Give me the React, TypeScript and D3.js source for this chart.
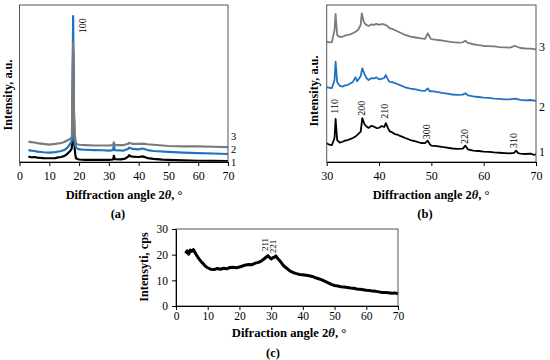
import { useEffect, useRef } from "react";
import * as d3 from "d3";

type Pt = [number, number];

// (a) full scans 3–70°, arbitrary units (curves stacked)
const aCurve1: Pt[] = [
  [3, 3.4], [4, 3.0], [5, 3.2], [6, 2.8], [8, 2.5], [10, 2.4], [12, 2.5], [13, 2.9], [14, 3.2],
  [15, 3.8], [16, 5.1], [17, 7.0], [17.5, 8.3], [17.8, 14], [18, 70], [18.2, 40], [18.4, 12],
  [18.7, 5], [19, 2.2], [20, 1.6], [22, 1.4], [25, 1.3], [28, 1.4], [30, 1.3], [31.4, 1.6],
  [31.7, 4.0], [32, 1.8], [34, 1.7], [35.5, 2.2], [36.5, 3.4], [36.8, 4.3], [37.5, 3.5],
  [38, 3.4], [40, 3.2], [41.3, 3.6], [43, 2.5], [45, 2.0], [48, 1.5], [50, 1.3], [55, 1.0],
  [60, 0.8], [65, 0.7], [70, 0.6],
];
const aCurve2: Pt[] = [
  [3, 7.6], [4, 7.2], [5, 7.0], [6, 6.6], [8, 6.2], [10, 6.0], [12, 6.3], [14, 7.0], [15, 7.6],
  [16, 9.0], [17, 11.5], [17.7, 14], [18, 93], [18.3, 30], [18.5, 12], [19, 9.0], [20, 8.0],
  [22, 7.8], [25, 7.6], [28, 7.5], [30, 7.3], [31.4, 7.6], [31.7, 10.5], [32, 7.6], [35, 7.3],
  [36.5, 8.4], [36.8, 9.2], [38, 8.3], [40, 8.0], [41.3, 8.6], [43, 7.6], [45, 7.0], [50, 6.4],
  [55, 6.0], [60, 5.7], [65, 5.4], [70, 5.1],
];
const aCurve3: Pt[] = [
  [3, 12.9], [4, 12.7], [5, 12.4], [6, 12.0], [8, 11.5], [10, 11.1], [12, 11.5], [14, 12.1],
  [15, 12.7], [16, 13.7], [17, 14.6], [17.6, 15.9], [18, 76], [18.3, 30], [18.5, 18], [19, 11.5],
  [20, 11.0], [22, 10.8], [25, 10.5], [28, 10.5], [30, 10.5], [31.4, 10.8], [31.7, 12.5],
  [32, 10.8], [35, 10.8], [36.5, 11.6], [36.8, 12.3], [38, 11.5], [40, 11.5], [41.3, 11.7],
  [43, 11.3], [45, 11.0], [50, 10.2], [55, 10.0], [60, 9.9], [65, 9.7], [70, 9.5],
];
const aTicks = [0, 10, 20, 30, 40, 50, 60, 70];
const aPeaks = [{ hkl: "100", x: 21.5, y: 82 }];
const aCurveLabelY = [-0.7, 7.3, 15.4];

// (b) zoom 30–70°
const bCurve1: Pt[] = [
  [30, 11.9], [30.5, 11.0], [31, 10.8], [31.5, 15.3], [31.7, 27.4], [32, 14.0], [32.5, 12.3],
  [33, 12.9], [33.5, 13.6], [34, 14.0], [34.5, 14.6], [35, 15.3], [35.5, 16.2], [36, 17.8],
  [36.5, 19.3], [36.8, 28.0], [37.2, 24.2], [37.6, 22.6], [38, 21.7], [38.5, 23.0], [39, 22.6],
  [39.5, 21.6], [40, 21.8], [40.5, 22.9], [41, 22.3], [41.3, 24.8], [41.7, 21.8], [42, 19.7],
  [42.5, 18.9], [43, 17.8], [43.5, 17.5], [44, 16.6], [44.5, 16.0], [45, 15.3], [46, 14.0],
  [47, 13.1], [48, 12.1], [48.8, 12.0], [49.3, 13.6], [49.7, 11.3], [50, 10.4], [51, 10.1],
  [52, 9.6], [53, 9.2], [54, 8.6], [55, 8.3], [56, 8.5], [56.5, 10.4], [57, 8.0], [58, 7.2],
  [59, 7.0], [60, 6.6], [61, 6.5], [62, 6.1], [63, 5.9], [64, 5.7], [65, 5.5], [65.8, 5.8],
  [66.2, 7.2], [66.6, 5.6], [67, 5.4], [68, 5.1], [69, 5.3], [69.5, 4.6], [70, 4.9],
];
const bCurve2: Pt[] = [
  [30, 47.6], [30.5, 47.3], [31, 47.1], [31.5, 52.2], [31.7, 63.9], [32, 51.0], [32.5, 48.5],
  [33, 48.0], [33.5, 48.8], [34, 49.0], [34.5, 50.0], [35, 51.0], [35.5, 54.0], [35.8, 51.5],
  [36, 52.2], [36.5, 54.8], [36.8, 59.7], [37.2, 56.1], [37.6, 53.5], [38, 52.2], [38.5, 53.4],
  [39, 53.2], [39.5, 53.9], [40, 52.7], [40.5, 53.0], [41, 53.5], [41.3, 55.4], [41.7, 52.6],
  [42, 51.1], [42.5, 50.9], [43, 50.3], [44, 49.0], [45, 47.6], [46, 46.8], [47, 46.2],
  [48, 45.5], [48.8, 45.3], [49.3, 46.9], [49.7, 45.0], [50, 45.2], [51, 44.6], [52, 44.0],
  [53, 43.6], [54, 43.0], [55, 42.7], [56, 42.9], [56.5, 43.8], [57, 42.4], [58, 41.8],
  [59, 41.4], [60, 41.0], [61, 40.8], [62, 40.4], [63, 40.2], [64, 39.9], [65, 39.9], [66, 40.4],
  [67, 39.6], [68, 39.2], [69, 39.5], [70, 39.0],
];
const bCurve3: Pt[] = [
  [30, 76.6], [30.5, 76.2], [31, 76.4], [31.5, 84.1], [31.7, 94.3], [32, 80.9], [32.5, 79.6],
  [33, 79.8], [33.5, 80.5], [34, 80.9], [34.5, 81.3], [35, 82.0], [35.5, 83.0], [36, 84.1],
  [36.5, 87.3], [36.7, 94.7], [37.1, 89.2], [37.5, 87.5], [38, 86.6], [38.5, 87.6], [39, 87.3],
  [39.5, 88.0], [40, 87.3], [40.5, 87.9], [41, 87.6], [41.5, 86.9], [42, 85.2], [42.5, 84.8],
  [43, 84.1], [44, 82.5], [45, 80.9], [46, 79.9], [47, 79.3], [48, 78.7], [48.8, 78.4],
  [49.3, 82.0], [49.8, 79.0], [50, 78.2], [51, 77.8], [52, 77.4], [53, 76.9], [54, 76.4],
  [55, 76.0], [56, 76.2], [56.5, 77.3], [57, 75.8], [58, 75.0], [59, 74.4], [60, 73.9],
  [61, 73.8], [62, 73.6], [63, 73.2], [64, 73.0], [65, 72.8], [66, 73.9], [67, 72.6],
  [68, 72.3], [69, 72.2], [70, 71.8],
];
const bTicks = [30, 40, 50, 60, 70];
const bPeaks = [
  { hkl: "110", x: 31.7, y: 30.8 },
  { hkl: "200", x: 36.8, y: 29.5 },
  { hkl: "210", x: 41.3, y: 27.5 },
  { hkl: "300", x: 49.3, y: 14.5 },
  { hkl: "220", x: 56.5, y: 11.5 },
  { hkl: "310", x: 66.0, y: 8.9 },
];
const bCurveLabelY = [5.7, 34.4, 72.6];

// (c) intensity, cps
const cCurve: Pt[] = [
  [3, 20.5], [3.5, 21.5], [4, 20.2], [4.5, 21.8], [5, 21.3], [5.5, 22.0], [6, 20.8], [6.5, 19.8],
  [7, 18.8], [7.5, 18.0], [8, 17.2], [8.5, 16.6], [9, 15.8], [9.5, 15.3], [10, 14.9], [11, 14.3],
  [12, 14.2], [13, 14.6], [14, 14.3], [15, 14.7], [16, 14.5], [17, 15.0], [18, 15.1], [19, 14.9],
  [20, 15.2], [21, 15.6], [22, 16.0], [23, 16.2], [24, 16.1], [25, 16.7], [26, 17.0], [27, 17.6],
  [28, 18.6], [29, 19.6], [29.5, 18.9], [30, 18.3], [30.5, 18.8], [31, 19.0], [31.5, 19.5],
  [32, 18.6], [33, 17.2], [34, 15.6], [35, 14.6], [36, 13.6], [37, 13.0], [38, 12.6], [39, 12.3],
  [40, 12.2], [41, 12.0], [42, 11.8], [43, 11.5], [44, 11.0], [45, 10.6], [46, 10.2], [47, 9.6],
  [48, 9.0], [49, 8.4], [50, 8.0], [51, 7.8], [52, 7.5], [53, 7.4], [54, 7.2], [55, 7.0],
  [56, 6.9], [57, 6.6], [58, 6.5], [59, 6.3], [60, 6.1], [61, 6.0], [62, 5.8], [63, 5.7],
  [64, 5.5], [65, 5.3], [66, 5.3], [67, 5.2], [68, 5.0], [69, 5.1], [70, 4.8],
];
const cXTicks = [0, 10, 20, 30, 40, 50, 60, 70];
const cYTicks = [0, 10, 20, 30];
const cPeaks = [
  { hkl: "211", x: 28.3, y: 21.4 },
  { hkl: "221", x: 31.0, y: 20.6 },
];

const curveColors = ["#000000", "#1f74c2", "#7a7a7a"];
const serif = "'Liberation Serif', 'Times New Roman', serif";

const App = () => {
  const ref = useRef<SVGSVGElement | null>(null);

  useEffect(() => {
    drawChart();
  }, []);

  const drawChart = () => {
    const svg = d3.select(ref.current);
    svg.selectAll("*").remove();

    const xTitle = (cx, cy, word, size) => {
      const t = svg
        .append("text")
        .attr("x", cx)
        .attr("y", cy)
        .attr("text-anchor", "middle")
        .attr("font-family", serif)
        .attr("font-weight", "bold")
        .attr("font-size", size);
      t.append("tspan").text(`${word} angle 2`);
      t.append("tspan").attr("font-style", "italic").text("θ");
      t.append("tspan").text(", °");
    };

    const yTitle = (cx, cy, text) => {
      svg
        .append("text")
        .attr("transform", `translate(${cx},${cy}) rotate(-90)`)
        .attr("text-anchor", "middle")
        .attr("dominant-baseline", "middle")
        .attr("font-family", serif)
        .attr("font-weight", "bold")
        .attr("font-size", 12.3)
        .text(text);
    };

    const plain = (x, y, text, size = 12) =>
      svg
        .append("text")
        .attr("x", x)
        .attr("y", y)
        .attr("font-family", serif)
        .attr("font-size", size)
        .attr("dominant-baseline", "middle")
        .text(text);

    const panel = (opts) => {
      const { x0, x1, y0, y1, xDomain, yDomain, ticks, curves, peaks, curveLabelY, width, tickFont, tickPad, peakFont, labelFont } = opts;
      const xScale = d3.scaleLinear().domain(xDomain).range([x0, x1]);
      const yScale = d3.scaleLinear().domain(yDomain).range([y1, y0]);

      const line = d3
        .line<Pt>()
        .x((d) => xScale(d[0]))
        .y((d) => yScale(d[1]));

      curves.forEach((c, i) => {
        svg
          .append("path")
          .datum(c)
          .attr("fill", "none")
          .attr("stroke", curveColors[i])
          .attr("stroke-width", width)
          .attr("stroke-linejoin", "round")
          .attr("d", line);
      });

      // plot box
      svg
        .append("rect")
        .attr("x", x0)
        .attr("y", y0)
        .attr("width", x1 - x0)
        .attr("height", y1 - y0)
        .attr("fill", "none")
        .attr("stroke", "#555")
        .attr("stroke-width", 1);

      svg
        .append("g")
        .attr("transform", `translate(0,${y1})`)
        .call(d3.axisBottom(xScale).tickValues(ticks).tickSize(4).tickSizeOuter(0).tickPadding(tickPad))
        .call((g) => g.select(".domain").attr("stroke", "#000"))
        .style("font-family", serif)
        .style("font-size", `${tickFont}px`)
        .style("color", "#000");

      peaks.forEach((p) => {
        svg
          .append("text")
          .attr("transform", `translate(${xScale(p.x)},${yScale(p.y)}) rotate(-90)`)
          .attr("dominant-baseline", "middle")
          .attr("font-family", serif)
          .attr("font-size", peakFont)
          .text(p.hkl);
      });

      curveLabelY.forEach((v, i) => plain(x1 + 3, yScale(v), String(i + 1), labelFont));
      return { xScale, yScale };
    };

    // (a)
    panel({
      x0: 19.5, x1: 228, y0: 5, y1: 162,
      xDomain: [0, 70], yDomain: [0, 100],
      ticks: aTicks, curves: [aCurve1, aCurve2, aCurve3],
      peaks: aPeaks, curveLabelY: aCurveLabelY, width: 2.2,
      tickFont: 12, tickPad: 5, peakFont: 10, labelFont: 10.5,
    });
    yTitle(9, 95, "Intensity, a.u.");
    xTitle(124, 199, "Diffraction", 12.4);
    plain(118, 215, "(a)", 12.5).attr("text-anchor", "middle").attr("font-weight", "bold");

    // (b)
    panel({
      x0: 326.7, x1: 536, y0: 5, y1: 162,
      xDomain: [30, 70], yDomain: [0, 100],
      ticks: bTicks, curves: [bCurve1, bCurve2, bCurve3],
      peaks: bPeaks, curveLabelY: bCurveLabelY, width: 1.8,
      tickFont: 12, tickPad: 5, peakFont: 10, labelFont: 12,
    });
    yTitle(315, 91, "Intensity, a.u.");
    xTitle(431, 199, "Diffraction", 12.4);
    plain(425, 215, "(b)", 12.5).attr("text-anchor", "middle").attr("font-weight", "bold");

    // (c)
    const { yScale: cy } = panel({
      x0: 176, x1: 398, y0: 229, y1: 306,
      xDomain: [0, 70], yDomain: [0, 30],
      ticks: cXTicks, curves: [cCurve],
      peaks: cPeaks, curveLabelY: [], width: 3,
      tickFont: 11.5, tickPad: 2, peakFont: 9, labelFont: 12,
    });
    svg
      .append("g")
      .attr("transform", "translate(176,0)")
      .call(d3.axisLeft(cy).tickValues(cYTicks).tickSize(4).tickSizeOuter(0).tickPadding(4))
      .style("font-family", serif)
      .style("font-size", "11.5px")
      .style("color", "#000");
    yTitle(145, 267, "Intensyti, cps");
    xTitle(289, 337, "Difraction", 12.6);
    plain(273, 354, "(c)", 12.5).attr("text-anchor", "middle").attr("font-weight", "bold");
  };

  return (
    <svg
      ref={ref}
      width={550}
      height={360}
      style={{ position: "absolute", left: 0, top: 0, background: "#fff" }}
    />
  );
};

export default App;
